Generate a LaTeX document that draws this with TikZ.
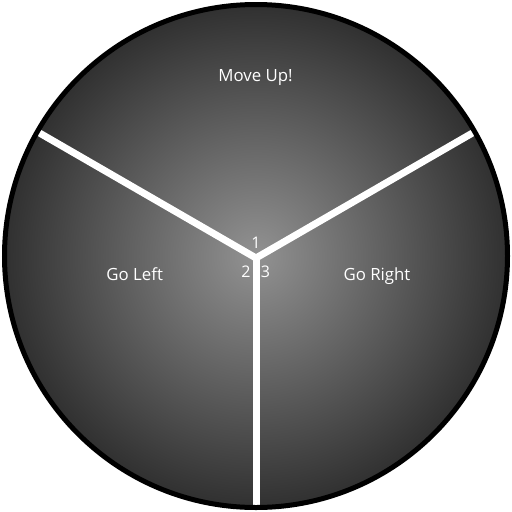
\documentclass[tikz,border=0pt]{standalone}
\usepackage{fontspec}
\setmainfont{Open Sans}
\begin{document}
\begin{tikzpicture}[x=1pt,y=-1pt,
  lbl/.style={text=white,font=\fontsize{16.8}{18}\selectfont,inner sep=0pt,anchor=base},
  num/.style={text=white,font=\fontsize{16}{18}\selectfont,inner sep=0pt,anchor=base},
  spoke/.style={white,line width=7pt}]
\useasboundingbox (0,0) rectangle (512,512);
\path[inner color={rgb,255:red,146;green,146;blue,146},outer color={rgb,255:red,48;green,48;blue,48}] (256,256) circle (252);
\coordinate (c) at (256,258);
\coordinate (down) at (256,600);
\coordinate (ul) at (-21.1,98);
\coordinate (ur) at (533.1,98);
\begin{scope}
\clip (256,256) circle (252);
\draw[spoke] (c) -- (down);
\draw[spoke] (c) -- (ul);
\draw[spoke] (c) -- (ur);
\end{scope}
\draw[black,line width=5pt] (256,256) circle (251.5);
\node[lbl] (up) at (255.5,81.7) {Move Up!};
\node[lbl] (left) at (134.7,280.7) {Go Left};
\node[lbl] (right) at (377,280.7) {Go Right};
\node[num] (n1) at (256,248.5) {1};
\node[num] (n2) at (246,277) {2};
\node[num] (n3) at (265.5,277) {3};
\end{tikzpicture}
\end{document}
